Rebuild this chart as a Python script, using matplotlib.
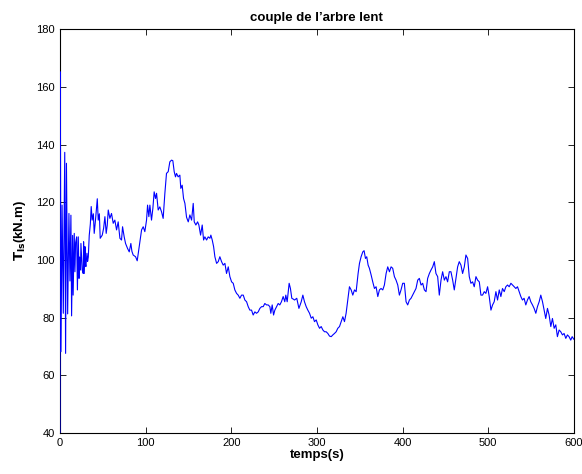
import matplotlib
matplotlib.use("Agg")
import matplotlib.pyplot as plt

# temps (s) et couple de l'arbre lent (kN.m)
temps = [0, 0.4, 1.2, 2.5, 3.9, 5.6, 6.6, 7.6, 9.0, 10.5, 11.7, 12.8, 13.6, 14.8, 15.4,
         16.7, 17.5, 18.3, 19.5, 20.4, 21.4, 22.3, 22.9, 24.0, 24.5, 26.0, 27.2, 27.6, 28.4,
         29.2, 29.6, 30.3, 31.5, 32.3, 33.1, 34.2, 35.5, 36.5, 37.6, 39.0, 40.0, 41.5, 43.6,
         44.7, 46.0, 47.0, 49.4, 51.0, 52.5, 54.0, 55.2, 56.4, 58.3, 60.2, 62.2, 64.1, 66.1,
         68.0, 70.0, 71.9, 73.1, 75.0, 76.6, 78.9, 80.9, 82.8, 84.0, 85.5, 88.3, 90.2, 92.5,
         95.3, 97.2, 99.1, 101.1, 102.3, 103.8, 105.0, 106.9, 108.5, 110.0, 111.6, 112.8,
         114.7, 116.6, 118.6, 120.5, 122.5, 124.4, 126.4, 128.3, 130.3, 131.8, 133.4, 134.9,
         136.1, 138.0, 140.0, 141.1, 142.7, 144.3, 145.9, 147.8, 149.8, 151.7, 153.7, 155.6,
         156.8, 158.7, 160.7, 162.2, 164.2, 166.1, 167.7, 169.2, 171.2, 173.1, 175.1, 176.2,
         177.8, 179.4, 180.9, 182.9, 184.8, 186.7, 188.7, 190.6, 192.6, 194.5, 196.5, 198.4,
         200.4, 202.3, 204.2, 206.2, 208.1, 210.1, 212.0, 214.0, 215.9, 217.9, 219.8, 221.7,
         223.7, 225.6, 227.6, 229.5, 231.5, 233.4, 235.4, 237.3, 239.2, 241.2, 243.1, 245.1,
         246.2, 247.8, 249.4, 250.9, 252.9, 254.8, 256.7, 258.6, 260.6, 262.5, 263.7, 265.3,
         267.6, 269.1, 270.7, 272.5, 273.9, 276.5, 279.0, 281.7, 283.6, 285.5, 287.5, 289.4,
         291.4, 293.4, 295.3, 297.2, 299.2, 301.1, 303.1, 305.0, 307.0, 308.9, 310.8, 312.8,
         314.7, 316.7, 318.6, 320.5, 322.5, 324.4, 326.4, 328.3, 330.3, 332.2, 334.1, 336.1,
         338.0, 340.0, 341.9, 343.9, 345.8, 347.0, 348.1, 349.7, 351.6, 353.6, 355.1, 356.7,
         358.2, 359.8, 361.3, 363.3, 365.2, 367.2, 369.1, 371.1, 373.0, 374.9, 376.9, 378.8,
         380.8, 382.7, 384.7, 386.6, 388.5, 390.5, 392.4, 394.4, 396.3, 398.2, 400.2, 402.1,
         404.1, 406.0, 408.0, 409.9, 411.8, 413.8, 415.7, 417.7, 419.6, 421.6, 423.5, 425.5,
         427.4, 429.3, 431.3, 433.2, 435.2, 437.1, 439.0, 441.0, 442.9, 444.9, 446.8, 448.8,
         450.7, 452.6, 454.6, 456.5, 458.5, 460.4, 462.4, 464.3, 466.2, 468.2, 470.1, 472.1,
         474.0, 476.0, 477.9, 479.8, 481.8, 483.7, 485.7, 487.6, 489.6, 491.5, 493.4, 495.4,
         497.3, 499.3, 501.2, 503.2, 505.1, 507.0, 509.0, 510.9, 512.9, 514.8, 516.7, 518.7,
         520.6, 522.6, 524.5, 526.5, 528.4, 530.3, 532.3, 534.2, 536.2, 538.1, 540.0, 541.9,
         543.9, 545.8, 547.8, 549.7, 551.7, 553.6, 555.6, 557.5, 559.5, 561.4, 563.4, 565.3,
         567.2, 569.2, 571.1, 573.1, 575.0, 577.0, 578.9, 580.8, 582.8, 584.7, 586.7, 588.6,
         590.6, 592.5, 594.4, 596.4, 598.0, 600.0]

couple = [40, 165.2, 68.2, 119, 81.5, 137.3, 67.6, 133.5, 81.3, 116.1, 92.7, 115.5, 80.6, 108.5, 87.8,
          109.2, 95.9, 106, 108, 89.6, 108, 93.6, 101, 96.5, 105.7, 96.5, 95.3, 106.3, 95.3,
          104.6, 99, 97.7, 102.3, 99.5, 101, 108.5, 112.5, 118.5, 113.8, 116, 109.2, 113.8, 121.2,
          113.8, 116, 107.5, 108.6, 111, 115, 109.2, 112, 117.3, 114.4, 116.1, 112.7, 113.8, 110.4,
          113.2, 107.5, 106.9, 111.5, 108, 105.7, 104, 102.8, 105.7, 103, 101.7, 101.1, 99.7, 104.6,
          110.4, 111.5, 109.8, 113.8, 119, 115, 119, 113.8, 117.9, 123.6, 121.3, 123.1,
          117.3, 118.4, 116.7, 114.4, 123.1, 130, 130.6, 134, 134.6, 134.4, 130.6, 128.8,
          130, 128.8, 129.4, 124.8, 125.9, 121.3, 119.6, 114.8, 113.2, 115.6, 113.8, 119.6,
          113.2, 112.1, 113.2, 112.1, 108.6, 112.1, 106.9, 108, 106.9, 108, 107.5, 108.6,
          106.9, 104.6, 101.1, 98.8, 99.4, 101.1, 99.4, 98.2, 98.8, 95.3, 97.6, 94.2,
          92.4, 91.9, 89.6, 88.4, 87.8, 86.7, 87.8, 87.8, 86.1, 85.5, 83.8, 82.6,
          82.6, 80.9, 82.0, 81.5, 82, 83.2, 83.8, 83.8, 84.9, 84.4, 84.4, 83.8,
          81.5, 84.4, 80.9, 82.6, 83.8, 84.9, 84.4, 85.5, 87.3, 85.5, 87.8, 85.5,
          91.9, 90.1, 86.7, 86.4, 86.1, 86.7, 83.2, 85.5, 87.8, 85.5, 83.8, 82.6,
          81.5, 79.8, 80.3, 78.6, 79.2, 77.5, 76.3, 76.9, 75.7, 75.1, 75.1, 74.5,
          73.6, 73.4, 74.0, 74.5, 75.1, 76.3, 76.9, 78.6, 80.3, 78.6, 81.5, 86.1,
          90.7, 89.6, 87.8, 89.6, 89, 92.4, 95.3, 98.8, 101.1, 102.8, 103.2, 100.5,
          101.1, 98.2, 97.1, 94.8, 92.4, 90.1, 90.7, 87.3, 89.6, 90.1, 89.6, 91.3,
          95.3, 97.6, 95.9, 97.6, 97.1, 94.2, 93, 91.3, 87.8, 89.6, 91.9, 91.9,
          85.5, 84.4, 86.1, 86.7, 87.8, 89, 90.1, 93, 93.6, 91.3, 91.9, 89.6,
          89, 93.6, 95.3, 96.5, 97.6, 99.4, 95.3, 94.2, 87.8, 93, 95.9, 93,
          94.2, 92.4, 95.9, 95.9, 93, 89.6, 93.6, 97.6, 99.4, 98.2, 95.3, 97.6,
          101.7, 100.5, 94.2, 91.9, 92.4, 90.7, 94.2, 93, 92.4, 87.8, 87.8, 89,
          88.4, 90.7, 87.3, 82.6, 84.4, 85.5, 89, 86.1, 89.6, 87.3, 90.1, 89,
          90.7, 91.3, 90.7, 91.9, 91.3, 90.7, 90.1, 90.7, 89, 87.3, 86.1, 86.7,
          84.4, 86.1, 87.3, 85.5, 84.4, 83.2, 81.5, 83.8, 85.5, 87.8, 85.5, 82.6,
          79.7, 83.2, 80.9, 76.9, 79.7, 76.3, 77.5, 73.4, 75.7, 75.1, 74, 74.5,
          72.8, 74, 73.4, 72.2, 73.4, 72.5]

plt.rcParams['font.family'] = ['Liberation Sans', 'DejaVu Sans']

fig = plt.figure(figsize=(5.82, 4.74), dpi=100)
ax = fig.add_axes([0.103, 0.0865, 0.883, 0.852])

# courbe au-dessus des bords de l'axe (comme sous matlab)
ax.plot(temps, couple, color='#0000ff', linewidth=0.8, zorder=3)

ax.set_xlim(0, 600)
ax.set_ylim(40, 180)
ax.set_xticks(range(0, 601, 100))
ax.set_yticks(range(40, 181, 20))
ax.tick_params(direction='in', top=True, right=True, labelsize=8, length=4, width=0.6)
for s in ax.spines.values():
    s.set_linewidth(0.8)

ax.set_title("couple de l\u2019arbre lent", fontsize=9.5, fontweight='bold', pad=6)
ax.set_xlabel('temps(s)', fontsize=9.5, fontweight='bold', labelpad=1)
ax.set_ylabel(r'$\mathbf{T_{ls}}$(kN.m)', fontsize=9.5, fontweight='bold', labelpad=6)

fig.savefig('out.png', dpi=100)
